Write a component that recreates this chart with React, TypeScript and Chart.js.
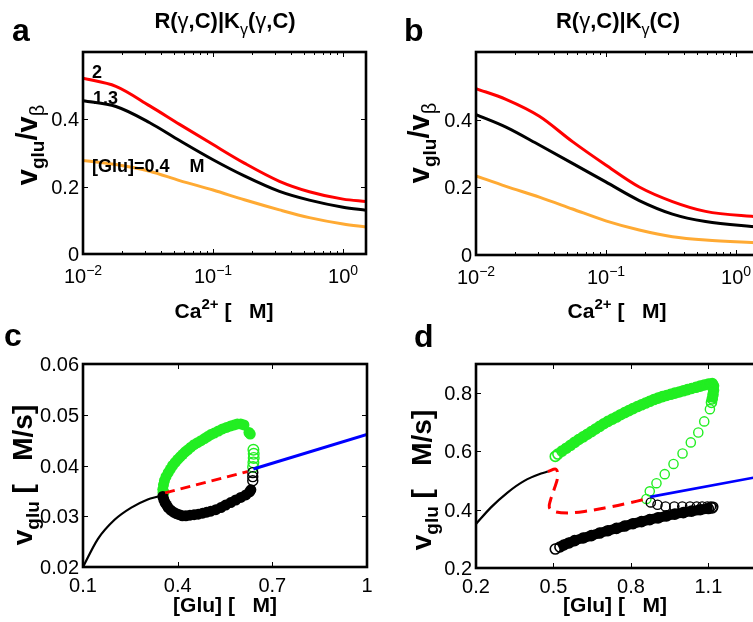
import React, { useEffect, useRef } from 'react';
import { Chart, registerables } from 'chart.js';

Chart.register(...registerables);

const FONT = '"Liberation Sans", Arial, Helvetica, sans-serif';
const CANVAS_W = 800;
const CANVAS_H = 622;

const RED = '#ff0000';
const BLACK = '#000000';
const ORANGE = '#ffaa33';
const GREEN = '#22ee22';
const BLUE = '#0000ff';

// ---------- panels a, b: rate vs. Ca2+ (log axis) ----------
const caConcA = [0.01, 0.0179, 0.0326, 0.0553, 0.1, 0.174, 0.324, 0.55, 1.0, 1.5];
// R(γ,C)|Kγ(γ,C)
const aGlu2 = [0.522, 0.498, 0.44, 0.385, 0.325, 0.27, 0.216, 0.185, 0.163, 0.156];
const aGlu13 = [0.455, 0.438, 0.39, 0.337, 0.28, 0.232, 0.186, 0.16, 0.139, 0.13];
const aGlu04 = [0.278, 0.266, 0.246, 0.218, 0.19, 0.161, 0.131, 0.108, 0.089, 0.08];
const caConcB = [0.01, 0.017, 0.0307, 0.0552, 0.0995, 0.18, 0.324, 0.582, 1.5];
// R(γ,C)|Kγ(C)
const bGlu2 = [0.492, 0.46, 0.41, 0.335, 0.266, 0.201, 0.158, 0.129, 0.112];
const bGlu13 = [0.415, 0.378, 0.325, 0.271, 0.216, 0.161, 0.121, 0.099, 0.082];
const bGlu04 = [0.234, 0.203, 0.171, 0.136, 0.101, 0.074, 0.054, 0.044, 0.036];

// ---------- panel c: bifurcation in [Glu] ----------
const cStableLowX = [0.1, 0.147, 0.2, 0.253, 0.305, 0.347, 0.36];
const cStableLowY = [0.02, 0.0255, 0.0293, 0.0317, 0.0333, 0.0341, 0.0345];
const cUnstableX = [0.36, 0.621];
const cUnstableY = [0.0346, 0.0388];
const cStableHighX = [0.64, 1.0];
const cStableHighY = [0.0393, 0.0461];
const cOscMaxX = [0.353, 0.355, 0.358, 0.363, 0.37, 0.377, 0.384, 0.392, 0.4, 0.408, 0.416, 0.424, 0.432, 0.442, 0.452, 0.463, 0.474, 0.485, 0.495, 0.505, 0.516, 0.529, 0.542, 0.555, 0.568, 0.579, 0.589, 0.6, 0.61, 0.626, 0.63];
const cOscMaxY = [0.0353, 0.0362, 0.037, 0.0378, 0.0386, 0.0393, 0.04, 0.0406, 0.0412, 0.0417, 0.0422, 0.0427, 0.0431, 0.0436, 0.0441, 0.0445, 0.0449, 0.0453, 0.0457, 0.0461, 0.0464, 0.0468, 0.0472, 0.0475, 0.0478, 0.048, 0.0482, 0.0482, 0.048, 0.0465, 0.0462];
const cOscMinX = [0.353, 0.356, 0.36, 0.365, 0.37, 0.378, 0.387, 0.396, 0.405, 0.415, 0.426, 0.439, 0.452, 0.465, 0.479, 0.492, 0.505, 0.521, 0.537, 0.552, 0.568, 0.584, 0.6, 0.616, 0.628, 0.632];
const cOscMinY = [0.0339, 0.0333, 0.0327, 0.0322, 0.0317, 0.0312, 0.0308, 0.0305, 0.0303, 0.0301, 0.0301, 0.0302, 0.0303, 0.0304, 0.0306, 0.0308, 0.031, 0.0313, 0.0317, 0.0322, 0.0327, 0.0332, 0.0337, 0.0342, 0.0348, 0.0352];
const cUnstOscMaxX = [0.355, 0.64, 0.641, 0.641, 0.64, 0.639];
const cUnstOscMaxY = [0.0347, 0.0431, 0.0423, 0.0415, 0.0406, 0.0397];
const cUnstOscMinX = [0.638, 0.638, 0.638];
const cUnstOscMinY = [0.0386, 0.0378, 0.037];

// ---------- panel d: bifurcation in [Glu] ----------
const dStableLowX = [0.2, 0.258, 0.322, 0.387, 0.452, 0.478];
const dStableLowY = [0.351, 0.408, 0.459, 0.499, 0.524, 0.531];
const dUnstableX = [0.478, 0.51, 0.516, 0.503, 0.488, 0.484, 0.503, 0.555, 0.62, 0.71, 0.788, 0.86];
const dUnstableY = [0.531, 0.539, 0.511, 0.471, 0.431, 0.408, 0.394, 0.389, 0.394, 0.408, 0.422, 0.437];
const dStableHighX = [0.875, 1.3];
const dStableHighY = [0.444, 0.514];
const dOscMaxX = [0.507, 0.517, 0.533, 0.55, 0.566, 0.582, 0.598, 0.615, 0.631, 0.647, 0.663, 0.679, 0.695, 0.711, 0.728, 0.744, 0.76, 0.776, 0.792, 0.808, 0.825, 0.841, 0.857, 0.873, 0.889, 0.905, 0.922, 0.938, 0.954, 0.97, 0.987, 1.003, 1.019, 1.035, 1.052, 1.068, 1.084, 1.1, 1.115, 1.12, 1.12, 1.118, 1.115, 1.112];
const dOscMaxY = [0.583, 0.591, 0.601, 0.611, 0.621, 0.631, 0.641, 0.65, 0.659, 0.668, 0.677, 0.686, 0.695, 0.703, 0.711, 0.718, 0.726, 0.733, 0.74, 0.747, 0.754, 0.76, 0.766, 0.772, 0.778, 0.783, 0.788, 0.792, 0.796, 0.8, 0.804, 0.808, 0.812, 0.816, 0.82, 0.824, 0.828, 0.831, 0.833, 0.825, 0.81, 0.795, 0.78, 0.768];
const dOscMinX = [0.507, 0.525, 0.54, 0.56, 0.582, 0.615, 0.647, 0.679, 0.711, 0.744, 0.776, 0.808, 0.841, 0.873, 0.905, 0.938, 0.97, 1.003, 1.035, 1.068, 1.1, 1.115];
const dOscMinY = [0.265, 0.272, 0.279, 0.286, 0.294, 0.303, 0.311, 0.32, 0.328, 0.336, 0.344, 0.352, 0.359, 0.366, 0.372, 0.379, 0.385, 0.39, 0.395, 0.4, 0.404, 0.406];
const dUnstOscMaxX = [1.106, 1.084, 1.061, 1.032, 1.0, 0.965, 0.931, 0.899, 0.873, 0.86];
const dUnstOscMaxY = [0.745, 0.703, 0.665, 0.631, 0.593, 0.557, 0.522, 0.491, 0.463, 0.437];
const dUnstOscMinX = [0.877, 0.903, 0.934, 0.968, 0.999, 1.029, 1.055, 1.076, 1.096, 1.11, 1.119];
const dUnstOscMinY = [0.425, 0.417, 0.411, 0.411, 0.411, 0.411, 0.411, 0.411, 0.411, 0.411, 0.41];

// ---------- tick labels ----------
const logTickValues = [0.01, 0.1, 1];
const logTickExps = ['\u22122', '\u22121', '0'];
const logMinorTicks = [0.02, 0.03, 0.04, 0.05, 0.06, 0.07, 0.08, 0.09, 0.2, 0.3, 0.4, 0.5, 0.6, 0.7, 0.8, 0.9];
const abYTicks = [0, 0.2, 0.4];
const abYLabels = ['0', '0.2', '0.4'];
const cXTicks = [0.1, 0.4, 0.7, 1];
const cXLabels = ['0.1', '0.4', '0.7', '1'];
const cYTicks = [0.02, 0.03, 0.04, 0.05, 0.06];
const cYLabels = ['0.02', '0.03', '0.04', '0.05', '0.06'];
const dXTicks = [0.2, 0.5, 0.8, 1.1];
const dXLabels = ['0.2', '0.5', '0.8', '1.1'];
const dYTicks = [0.2, 0.4, 0.6, 0.8];
const dYLabels = ['0.2', '0.4', '0.6', '0.8'];

type Seg = { t: string; size: number; bold?: boolean; dy?: number };
type RichText = { segs: Seg[]; x: number; y: number; align: 'left' | 'center' | 'right'; rot?: number };
type Tick = { v: number; segs: Seg[] };

const pts = (xs: number[], ys: number[]) => xs.map((x, i) => ({ x, y: ys[i] }));

function drawRich(ctx: CanvasRenderingContext2D, r: RichText) {
  ctx.save();
  ctx.translate(r.x, r.y);
  if (r.rot) ctx.rotate(r.rot);
  ctx.textAlign = 'left';
  ctx.textBaseline = 'alphabetic';
  ctx.fillStyle = '#000';
  const widths = r.segs.map((s) => {
    ctx.font = `${s.bold ? 'bold ' : ''}${s.size}px ${FONT}`;
    return ctx.measureText(s.t).width;
  });
  const total = widths.reduce((a, b) => a + b, 0);
  let cx = r.align === 'center' ? -total / 2 : r.align === 'right' ? -total : 0;
  r.segs.forEach((s, i) => {
    ctx.font = `${s.bold ? 'bold ' : ''}${s.size}px ${FONT}`;
    ctx.fillText(s.t, cx, s.dy || 0);
    cx += widths[i];
  });
  ctx.restore();
}

type PanelSpec = {
  area: { left: number; top: number; right: number; bottom: number };
  xType: 'linear' | 'logarithmic';
  xMin: number;
  xMax: number;
  yMin: number;
  yMax: number;
  xTicks: Tick[];
  xMinor: number[];
  xLabelOffset: number;
  yTicks: Tick[];
  texts: RichText[];
  datasets: any[];
};

const TICK_SIZE = 20;
const numTicks = (vals: number[], labels: string[]): Tick[] =>
  vals.map((v, i) => ({ v, segs: [{ t: labels[i], size: TICK_SIZE }] }));
const logTicks: Tick[] = logTickValues.map((v, i) => ({
  v,
  segs: [
    { t: '10', size: TICK_SIZE },
    { t: logTickExps[i], size: 14, dy: -8 },
  ],
}));

const line = (data: any[], color: string, width: number, extra: any = {}) => ({
  data,
  showLine: true,
  borderColor: color,
  borderWidth: width,
  pointRadius: 0,
  tension: 0.4,
  ...extra,
});
const smooth = (data: any[], color: string) =>
  line(data, color, 3, { cubicInterpolationMode: 'monotone' });

const markers = (data: any[], color: string, filled: boolean, radius: number) => ({
  data,
  showLine: false,
  pointRadius: radius,
  pointBorderWidth: filled ? 0 : 1.4,
  pointBorderColor: color,
  pointBackgroundColor: filled ? color : 'rgba(0,0,0,0)',
});

const band = (data: any[], color: string) => ({
  data,
  showLine: true,
  borderColor: color,
  borderWidth: 10,
  borderJoinStyle: 'round',
  tension: 0.3,
  pointRadius: 5,
  pointBorderWidth: 1.6,
  pointBorderColor: color,
  pointBackgroundColor: (c: any) => (c.dataIndex === 0 ? '#ffffff' : 'rgba(0,0,0,0)'),
});

const caLabel = (cx: number): RichText => ({
  segs: [
    { t: 'Ca', size: 21, bold: true },
    { t: '2+', size: 15, bold: true, dy: -9 },
    { t: ' [   M]', size: 21, bold: true },
  ],
  x: cx,
  y: 318,
  align: 'center',
});
const ratioLabel = (x: number, cy: number): RichText => ({
  segs: [
    { t: 'v', size: 29, bold: true },
    { t: 'glu', size: 19, bold: true, dy: 7 },
    { t: '/v', size: 29, bold: true },
    { t: '\u03b2', size: 20, dy: 7 },
  ],
  x,
  y: cy,
  align: 'center',
  rot: -Math.PI / 2,
});
const rateLabel = (x: number, cy: number): RichText => ({
  segs: [
    { t: 'v', size: 28, bold: true },
    { t: 'glu', size: 19, bold: true, dy: 7 },
    { t: ' [   M/s]', size: 28, bold: true },
  ],
  x,
  y: cy,
  align: 'center',
  rot: -Math.PI / 2,
});
const gluLabel = (cx: number): RichText => ({
  segs: [{ t: '[Glu] [   M]', size: 21, bold: true }],
  x: cx,
  y: 612,
  align: 'center',
});
const titleText = (cx: number, tail: Seg[]): RichText => ({
  segs: [
    { t: 'R(', size: 22, bold: true },
    { t: '\u03b3', size: 22 },
    { t: ',C)|K', size: 22, bold: true },
    { t: '\u03b3', size: 16, dy: 7 },
    ...tail,
  ],
  x: cx,
  y: 28,
  align: 'center',
});
const letter = (t: string, x: number, y: number): RichText => ({
  segs: [{ t, size: 32, bold: true }],
  x,
  y,
  align: 'left',
});

const panels: PanelSpec[] = [
  {
    area: { left: 83, top: 52, right: 366, bottom: 254 },
    xType: 'logarithmic',
    xMin: 0.01,
    xMax: 1.5,
    yMin: 0,
    yMax: 0.6,
    xTicks: logTicks,
    xMinor: logMinorTicks,
    xLabelOffset: 29,
    yTicks: numTicks(abYTicks, abYLabels),
    texts: [
      letter('a', 12, 41),
      titleText(225, [
        { t: '(', size: 22, bold: true },
        { t: '\u03b3', size: 22 },
        { t: ',C)', size: 22, bold: true },
      ]),
      ratioLabel(37, 145),
      caLabel(224),
      { segs: [{ t: '2', size: 18, bold: true }], x: 92, y: 78, align: 'left' },
      { segs: [{ t: '1.3', size: 18, bold: true }], x: 93, y: 104, align: 'left' },
      { segs: [{ t: '[Glu]=0.4    M', size: 18, bold: true }], x: 92, y: 172, align: 'left' },
    ],
    datasets: [
      smooth(pts(caConcA, aGlu04), ORANGE),
      smooth(pts(caConcA, aGlu13), BLACK),
      smooth(pts(caConcA, aGlu2), RED),
    ],
  },
  {
    area: { left: 476, top: 52, right: 759, bottom: 255 },
    xType: 'logarithmic',
    xMin: 0.01,
    xMax: 1.5,
    yMin: 0,
    yMax: 0.6,
    xTicks: logTicks,
    xMinor: logMinorTicks,
    xLabelOffset: 29,
    yTicks: numTicks(abYTicks, abYLabels),
    texts: [
      letter('b', 404, 41),
      titleText(618, [{ t: '(C)', size: 22, bold: true }]),
      ratioLabel(429, 143),
      caLabel(617),
    ],
    datasets: [
      smooth(pts(caConcB, bGlu04), ORANGE),
      smooth(pts(caConcB, bGlu13), BLACK),
      smooth(pts(caConcB, bGlu2), RED),
    ],
  },
  {
    area: { left: 83, top: 364, right: 367, bottom: 567 },
    xType: 'linear',
    xMin: 0.1,
    xMax: 1.0,
    yMin: 0.02,
    yMax: 0.06,
    xTicks: numTicks(cXTicks, cXLabels),
    xMinor: [],
    xLabelOffset: 25,
    yTicks: numTicks(cYTicks, cYLabels),
    texts: [letter('c', 4, 346), rateLabel(32, 475), gluLabel(225)],
    datasets: [
      line(pts(cStableLowX, cStableLowY), BLACK, 2.2, { cubicInterpolationMode: 'monotone' }),
      line(pts(cUnstableX, cUnstableY), RED, 3, { borderDash: [10, 6], tension: 0 }),
      line(pts(cStableHighX, cStableHighY), BLUE, 3, { tension: 0 }),
      markers(pts(cOscMinX, cOscMinY), BLACK, true, 5.5),
      markers(pts(cOscMaxX, cOscMaxY), GREEN, true, 5.5),
      markers(pts(cUnstOscMinX, cUnstOscMinY), BLACK, false, 5),
      markers(pts(cUnstOscMaxX, cUnstOscMaxY), GREEN, false, 5.3),
    ],
  },
  {
    area: { left: 476, top: 364, right: 760, bottom: 568 },
    xType: 'linear',
    xMin: 0.2,
    xMax: 1.3,
    yMin: 0.2,
    yMax: 0.9,
    xTicks: numTicks(dXTicks, dXLabels),
    xMinor: [],
    xLabelOffset: 25,
    yTicks: numTicks(dYTicks, dYLabels),
    texts: [letter('d', 414, 347), rateLabel(431, 480), gluLabel(615)],
    datasets: [
      line(pts(dStableLowX, dStableLowY), BLACK, 2.2, { cubicInterpolationMode: 'monotone' }),
      line(pts(dUnstableX, dUnstableY), RED, 3, { borderDash: [12, 7], tension: 0.35 }),
      line(pts(dStableHighX, dStableHighY), BLUE, 2.6, { tension: 0 }),
      band(pts(dOscMinX, dOscMinY), BLACK),
      band(pts(dOscMaxX, dOscMaxY), GREEN),
      markers(pts(dUnstOscMinX, dUnstOscMinY), BLACK, false, 4.6),
      markers(pts(dUnstOscMaxX, dUnstOscMaxY), GREEN, false, 4.6),
    ],
  },
];

function makeFramePlugin(spec: PanelSpec, idx: number) {
  return {
    id: 'frame' + idx,
    afterDatasetsDraw(chart: any) {
      const ctx: CanvasRenderingContext2D = chart.ctx;
      const { left, top, right, bottom } = chart.chartArea;
      const xs = chart.scales.x;
      const ys = chart.scales.y;
      ctx.save();
      ctx.strokeStyle = '#000';
      // inward ticks on all four sides
      ctx.lineWidth = 1;
      ctx.beginPath();
      spec.xTicks.forEach((t) => {
        const px = Math.round(xs.getPixelForValue(t.v)) + 0.5;
        ctx.moveTo(px, bottom);
        ctx.lineTo(px, bottom - 5);
        ctx.moveTo(px, top);
        ctx.lineTo(px, top + 5);
      });
      spec.xMinor.forEach((v) => {
        const px = Math.round(xs.getPixelForValue(v)) + 0.5;
        ctx.moveTo(px, bottom);
        ctx.lineTo(px, bottom - 3);
        ctx.moveTo(px, top);
        ctx.lineTo(px, top + 3);
      });
      spec.yTicks.forEach((t) => {
        const py = Math.round(ys.getPixelForValue(t.v)) + 0.5;
        ctx.moveTo(left, py);
        ctx.lineTo(left + 5, py);
        ctx.moveTo(right, py);
        ctx.lineTo(right - 5, py);
      });
      ctx.stroke();
      // axes box
      ctx.lineWidth = 2.6;
      ctx.strokeRect(left, top, right - left, bottom - top);
      ctx.restore();

      spec.xTicks.forEach((t) => {
        drawRich(ctx, {
          segs: t.segs,
          x: xs.getPixelForValue(t.v),
          y: bottom + spec.xLabelOffset,
          align: 'center',
        });
      });
      spec.yTicks.forEach((t) => {
        drawRich(ctx, {
          segs: t.segs,
          x: left - 4,
          y: ys.getPixelForValue(t.v) + 7,
          align: 'right',
        });
      });
      spec.texts.forEach((r) => drawRich(ctx, r));
    },
  };
}

function Panel({ spec, idx }: { spec: PanelSpec; idx: number }) {
  const ref = useRef<HTMLCanvasElement | null>(null);
  useEffect(() => {
    if (!ref.current) return;
    const a = spec.area;
    const chart = new Chart(ref.current, {
      type: 'scatter',
      data: { datasets: spec.datasets },
      options: {
        responsive: false,
        animation: false,
        devicePixelRatio: 1,
        events: [],
        layout: {
          autoPadding: false,
          padding: { left: a.left, top: a.top, right: CANVAS_W - a.right, bottom: CANVAS_H - a.bottom },
        },
        plugins: { legend: { display: false }, tooltip: { enabled: false } },
        scales: {
          x: { type: spec.xType, min: spec.xMin, max: spec.xMax, display: false },
          y: { type: 'linear', min: spec.yMin, max: spec.yMax, display: false },
        },
      } as any,
      plugins: [makeFramePlugin(spec, idx)],
    });
    return () => chart.destroy();
  }, [spec, idx]);
  return (
    <canvas
      ref={ref}
      width={CANVAS_W}
      height={CANVAS_H}
      style={{ position: 'absolute', left: 0, top: 0, width: CANVAS_W, height: CANVAS_H }}
    />
  );
}

export default function App() {
  return (
    <div
      style={{
        position: 'fixed',
        left: 0,
        top: 0,
        width: 753,
        height: 622,
        overflow: 'hidden',
        background: '#ffffff',
      }}
    >
      {panels.map((p, i) => (
        <Panel key={i} spec={p} idx={i} />
      ))}
    </div>
  );
}
